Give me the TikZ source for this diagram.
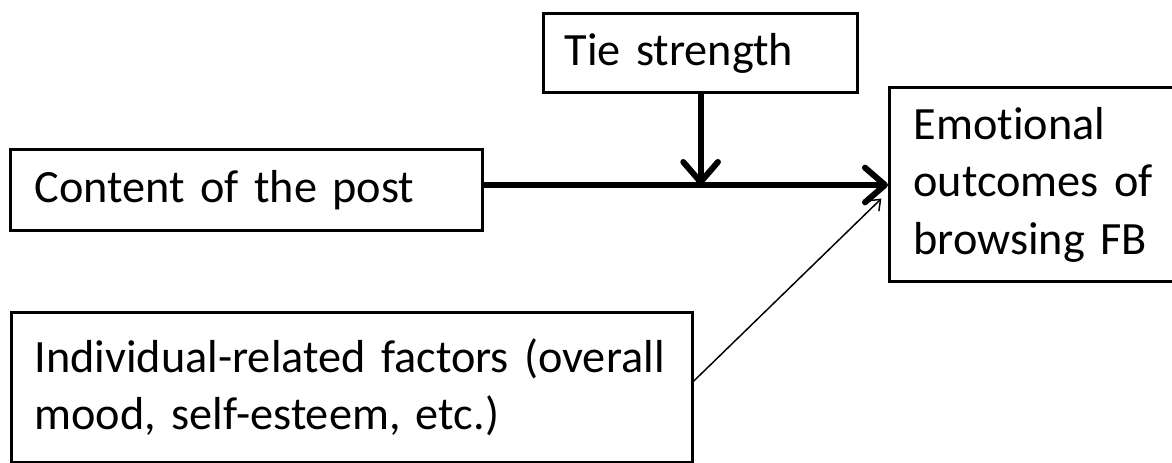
\documentclass[tikz,border=0pt]{standalone}
\usepackage{fontspec}
\setmainfont{Carlito}[Ligatures=NoCommon]
\usetikzlibrary{arrows.meta}
\begin{document}
\begin{tikzpicture}[x=0.75pt,y=-0.75pt,
  factor/.style={draw, line width=2.4pt, anchor=north west, align=left, inner ysep=0pt,
    font=\fontsize{34.7pt}{43pt}\selectfont},
  effect/.style={line width=4.5pt, -{Straight Barb[length=15pt,width=26pt,round]}},
  side/.style={line width=1.1pt, -{Straight Barb[length=7pt,width=11pt]}}]
  \useasboundingbox (0,0) rectangle (1172,463);
  % Boxes
  \node[factor, inner xsep=15.75pt, text width=204pt, minimum height=59.25pt] (tie) at (542,12) {Tie strength};
  \node[factor, inner xsep=18pt, text width=318pt, minimum height=60.75pt] (content) at (9,148) {Content of the post};
  \node[factor, inner xsep=18pt, text width=200pt, minimum height=145.5pt] (outcome) at (888,86) {Emotional\\outcomes of\\browsing FB};
  \node[factor, inner xsep=17.25pt, text width=476pt, minimum height=112.5pt] (indiv) at (10,311) {Individual-related factors (overall\\mood, self-esteem, etc.)};
  % Arrows
  \coordinate (meet) at (699,185);
  \draw[effect] (content.east |- meet) -- (outcome.west |- meet);
  \draw[effect] (tie.south) -- (tie.south |- meet);
  \draw[side] ([yshift=5pt]indiv.east) -- ([xshift=-5pt,yshift=-10.5pt]outcome.west);
\end{tikzpicture}
\end{document}
